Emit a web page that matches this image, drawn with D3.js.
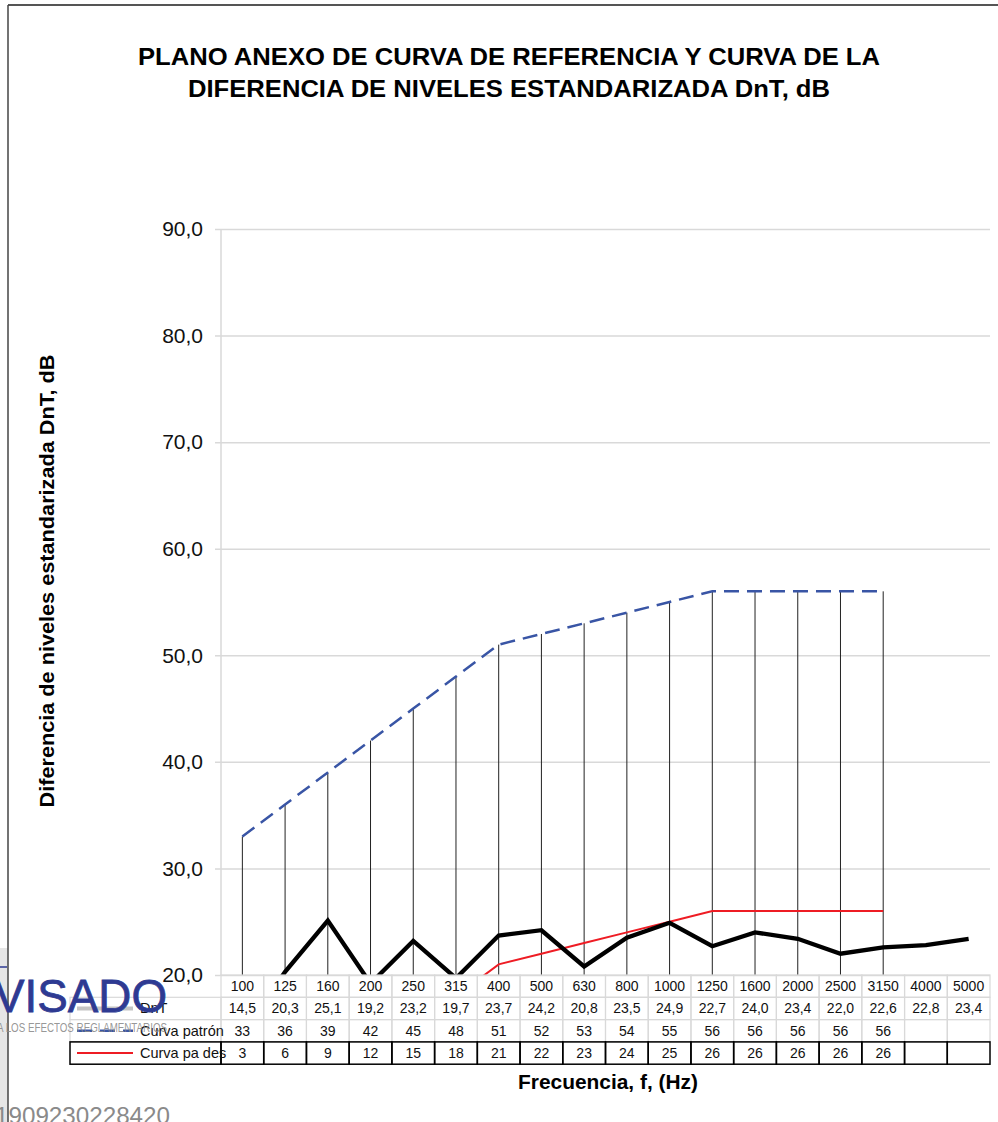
<!DOCTYPE html>
<html>
<head>
<meta charset="utf-8">
<script src="https://cdn.jsdelivr.net/npm/d3@7"></script>
<style>
  html, body { margin: 0; padding: 0; background: #fff; }
  svg { display: block; font-family: "Liberation Sans", Arial, sans-serif; }
</style>
</head>
<body>
<svg id="chart"></svg>
<script>
// datos del gráfico
const frecuencias = [100, 125, 160, 200, 250, 315, 400, 500, 630, 800, 1000, 1250, 1600, 2000, 2500, 3150, 4000, 5000];
const dnt = [14.5, 20.3, 25.1, 19.2, 23.2, 19.7, 23.7, 24.2, 20.8, 23.5, 24.9, 22.7, 24.0, 23.4, 22.0, 22.6, 22.8, 23.4];
const curvaPatron = [33, 36, 39, 42, 45, 48, 51, 52, 53, 54, 55, 56, 56, 56, 56, 56, null, null];
const curvaDesplazada = [3, 6, 9, 12, 15, 18, 21, 22, 23, 24, 25, 26, 26, 26, 26, 26, null, null];
const yTicks = [20, 30, 40, 50, 60, 70, 80, 90];

const W = 998, H = 1122;

// margenes del area de trazado
const plotLeft = 221;
const plotRight = 990;
const plotTop = 229;
const plotBottom = 975;
const rowH = 22.3;
const legendLeft = 70;

const es = d3.formatLocale({decimal: ",", thousands: ".", grouping: [3], currency: ["", "€"]});
const f1 = es.format(".1f");

const svg = d3.select("#chart")
    .attr("width", W)
    .attr("height", H)
    .attr("viewBox", `0 0 ${W} ${H}`);

// escalas
const x = d3.scaleBand()
    .domain(frecuencias)
    .range([plotLeft, plotRight])
    .padding(0);

const y = d3.scaleLinear()
    .domain([20, 90])
    .range([plotBottom, plotTop]);

const cx = d => x(d) + x.bandwidth() / 2;

// marco exterior y franja gris
svg.append("rect")
    .attr("x", 0).attr("y", 948).attr("width", 8).attr("height", H - 948)
    .attr("fill", "#e6e6e6");
svg.append("line")
    .attr("x1", 8).attr("x2", W).attr("y1", 5).attr("y2", 5)
    .attr("stroke", "#555").attr("stroke-width", 2);
svg.append("line")
    .attr("x1", 8).attr("x2", 8).attr("y1", 5).attr("y2", H)
    .attr("stroke", "#444").attr("stroke-width", 1.5);

// titulo
const title = svg.append("text")
    .attr("text-anchor", "middle")
    .attr("font-weight", "bold")
    .attr("font-size", 23)
    .attr("fill", "#000");
title.append("tspan").attr("x", 509).attr("y", 65)
    .attr("textLength", 742).attr("lengthAdjust", "spacingAndGlyphs")
    .text("PLANO ANEXO DE CURVA DE REFERENCIA Y CURVA DE LA");
title.append("tspan").attr("x", 509).attr("y", 97)
    .attr("textLength", 642).attr("lengthAdjust", "spacingAndGlyphs")
    .text("DIFERENCIA DE NIVELES ESTANDARIZADA  DnT, dB");

// eje y con lineas de rejilla
svg.append("g")
    .attr("transform", `translate(${plotRight},0)`)
    .call(d3.axisLeft(y).tickValues(yTicks).tickSize(plotRight - 215).tickPadding(12).tickFormat(f1))
    .call(g => g.select(".domain").remove())
    .call(g => g.selectAll(".tick line").attr("stroke", "#d9d9d9").attr("stroke-width", 1.5))
    .call(g => g.selectAll(".tick text")
        .attr("font-size", 21)
        .attr("fill", "#111")
        .attr("font-family", "Liberation Sans, Arial, sans-serif"));

svg.append("line")
    .attr("x1", plotLeft).attr("x2", plotLeft)
    .attr("y1", plotTop).attr("y2", plotBottom)
    .attr("stroke", "#d9d9d9").attr("stroke-width", 1.5);

// titulo del eje y
svg.append("text")
    .attr("transform", `translate(54,581) rotate(-90)`)
    .attr("text-anchor", "middle")
    .attr("font-weight", "bold")
    .attr("font-size", 19.5)
    .attr("textLength", 453).attr("lengthAdjust", "spacingAndGlyphs")
    .text("Diferencia de niveles estandarizada DnT, dB");

// recorte del area de trazado
svg.append("clipPath").attr("id", "clip")
  .append("rect")
    .attr("x", plotLeft).attr("y", plotTop)
    .attr("width", plotRight - plotLeft).attr("height", plotBottom - plotTop);

const plot = svg.append("g").attr("clip-path", "url(#clip)");

// lineas verticales de caida
const patronPts = frecuencias.map((f, i) => ({f, v: curvaPatron[i]})).filter(d => d.v != null);
plot.append("g")
    .attr("stroke", "#222")
    .attr("stroke-width", 1)
  .selectAll("line")
  .data(patronPts)
  .join("line")
    .attr("x1", d => cx(d.f)).attr("x2", d => cx(d.f))
    .attr("y1", d => y(d.v)).attr("y2", y(20));

const line = d3.line()
    .defined(d => d.v != null)
    .x(d => cx(d.f))
    .y(d => y(d.v));

// curva desplazada (roja)
plot.append("path")
    .datum(frecuencias.map((f, i) => ({f, v: curvaDesplazada[i]})))
    .attr("fill", "none")
    .attr("stroke", "#ee1c24")
    .attr("stroke-width", 2)
    .attr("d", line);

// curva patron (azul discontinua)
plot.append("path")
    .datum(frecuencias.map((f, i) => ({f, v: curvaPatron[i]})))
    .attr("fill", "none")
    .attr("stroke", "#3955a5")
    .attr("stroke-width", 2.5)
    .attr("stroke-dasharray", "15,8")
    .attr("d", line);

// DnT medida (negra gruesa)
plot.append("path")
    .datum(frecuencias.map((f, i) => ({f, v: dnt[i]})))
    .attr("fill", "none")
    .attr("stroke", "#000")
    .attr("stroke-width", 4.3)
    .attr("stroke-linejoin", "miter")
    .attr("d", line);

// tabla de datos
const rows = [
  {label: null, vals: frecuencias.map(String)},
  {label: "DnT", vals: dnt.map(f1)},
  {label: "Curva patrón", vals: curvaPatron.map(v => v == null ? "" : String(v))},
  {label: "Curva pa des", vals: curvaDesplazada.map(v => v == null ? "" : String(v))}
];

const table = svg.append("g").attr("font-size", 14).attr("fill", "#111");

rows.forEach((r, ri) => {
  const y0 = plotBottom + ri * rowH;
  const dark = ri === 3;
  const col = dark ? "#000" : "#d9d9d9";
  const left = r.label ? legendLeft : plotLeft;

  // celdas
  table.append("g")
    .selectAll("rect")
    .data(frecuencias)
    .join("rect")
      .attr("x", d => x(d)).attr("y", y0)
      .attr("width", x.bandwidth()).attr("height", rowH)
      .attr("fill", "none")
      .attr("stroke", col)
      .attr("stroke-width", dark ? 1.5 : 1.2);

  if (r.label) {
    table.append("rect")
      .attr("x", left).attr("y", y0)
      .attr("width", plotLeft - left).attr("height", rowH)
      .attr("fill", "none")
      .attr("stroke", col)
      .attr("stroke-width", dark ? 1.5 : 1.2);
  }

  table.append("g")
    .selectAll("text")
    .data(r.vals)
    .join("text")
      .attr("x", (d, i) => cx(frecuencias[i]))
      .attr("y", y0 + rowH / 2 + 5)
      .attr("text-anchor", "middle")
      .text(d => d);
});

// leyenda dentro de la tabla
const legY = i => plotBottom + i * rowH + rowH / 2;
table.append("line")
    .attr("x1", 77).attr("x2", 133).attr("y1", legY(1)).attr("y2", legY(1))
    .attr("stroke", "#c4c4c4").attr("stroke-width", 4);
table.append("line")
    .attr("x1", 77).attr("x2", 133).attr("y1", legY(2)).attr("y2", legY(2))
    .attr("stroke", "#3955a5").attr("stroke-width", 2.5).attr("stroke-dasharray", "15,8");
table.append("line")
    .attr("x1", 77).attr("x2", 133).attr("y1", legY(3)).attr("y2", legY(3))
    .attr("stroke", "#ee1c24").attr("stroke-width", 2);
rows.slice(1).forEach((r, i) => {
  table.append("text")
      .attr("x", 140).attr("y", legY(i + 1) + 5)
      .attr("font-size", 14.5)
      .text(r.label);
});

// titulo del eje x
svg.append("text")
    .attr("x", 608).attr("y", 1089)
    .attr("text-anchor", "middle")
    .attr("font-weight", "bold")
    .attr("font-size", 20)
    .attr("textLength", 180).attr("lengthAdjust", "spacingAndGlyphs")
    .text("Frecuencia, f, (Hz)");

// sello de visado superpuesto
const sello = svg.append("g");
sello.append("line")
    .attr("x1", 0).attr("x2", 7).attr("y1", 967).attr("y2", 967)
    .attr("stroke", "#2e3a92").attr("stroke-width", 1.5);
sello.append("text")
    .attr("x", -6).attr("y", 1012)
    .attr("font-size", 47)
    .attr("fill", "#2e3a92")
    .attr("stroke", "#2e3a92").attr("stroke-width", 0.8)
    .attr("textLength", 173).attr("lengthAdjust", "spacingAndGlyphs")
    .text("VISADO");
sello.append("text")
    .attr("x", -3).attr("y", 1032)
    .attr("font-size", 12.5)
    .attr("fill", "#8a8a8a")
    .attr("fill-opacity", 0.9)
    .attr("textLength", 170).attr("lengthAdjust", "spacingAndGlyphs")
    .text("A LOS EFECTOS REGLAMENTARIOS");
sello.append("text")
    .attr("x", -5).attr("y", 1124)
    .attr("font-size", 23)
    .attr("fill", "#8a8a8a")
    .attr("textLength", 175).attr("lengthAdjust", "spacingAndGlyphs")
    .text("1909230228420");
</script>
</body>
</html>
